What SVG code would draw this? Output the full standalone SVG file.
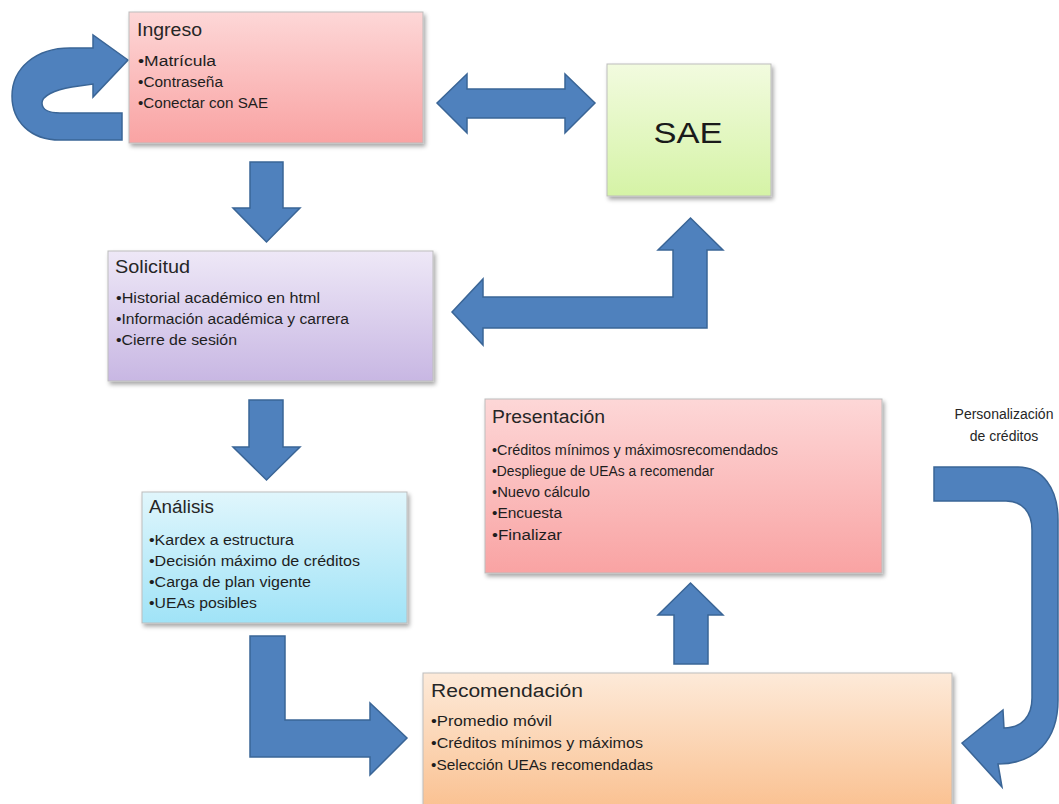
<svg xmlns="http://www.w3.org/2000/svg" width="1059" height="804" viewBox="0 0 1059 804">
<defs>
<linearGradient id="gPink" x1="0" y1="0" x2="0" y2="1"><stop offset="0" stop-color="#FDD7D7"/><stop offset="1" stop-color="#F9A3A3"/></linearGradient>
<linearGradient id="gGreen" x1="0" y1="0" x2="0" y2="1"><stop offset="0" stop-color="#F2FBDF"/><stop offset="1" stop-color="#D5F3A6"/></linearGradient>
<linearGradient id="gPurple" x1="0" y1="0" x2="0" y2="1"><stop offset="0" stop-color="#EEE8F7"/><stop offset="1" stop-color="#C8B7E3"/></linearGradient>
<linearGradient id="gCyan" x1="0" y1="0" x2="0" y2="1"><stop offset="0" stop-color="#E0F6FC"/><stop offset="1" stop-color="#A0E3F7"/></linearGradient>
<linearGradient id="gOrange" x1="0" y1="0" x2="0" y2="1"><stop offset="0" stop-color="#FDEAD9"/><stop offset="1" stop-color="#FABE8C"/></linearGradient>
<filter id="sh" x="-5%" y="-5%" width="112%" height="115%"><feDropShadow dx="2" dy="3" stdDeviation="2" flood-color="#000" flood-opacity="0.35"/></filter>
</defs>
<style>
.box{stroke:#BDBDBD;stroke-width:1;filter:url(#sh)}
.arr{fill:#4F81BD;stroke:#3A6596;stroke-width:1.5;stroke-linejoin:miter}
.t{font-family:"Liberation Sans",Arial,sans-serif;font-size:18px;fill:#262626}
.i{font-family:"Liberation Sans",Arial,sans-serif;font-size:14px;fill:#1E1E1E}
.lbl{font-family:"Liberation Sans",Arial,sans-serif;font-size:14px;fill:#262626;text-anchor:middle}
.big{font-family:"Liberation Sans",Arial,sans-serif;font-size:30px;fill:#1A1A1A;text-anchor:middle}
</style>
<rect width="1059" height="804" fill="#FFFFFF"/>

<g id="connectors">
<path class="arr" d="M122,113 L122,140 L60,140 C30,140 12,121 12,96 C12,68 36,48 70,48 L93,48 L93,35 L128,60 L93,97 L93,84 L72,87 C54,90 42,96 42,103 C42,110 50,113 60,113 Z"/>
<path class="arr" d="M437,103 L467,74 L467,89 L565,89 L565,74 L595,103 L565,133 L565,118 L467,118 L467,133 Z"/>
<path class="arr" d="M250,162 L283,162 L283,208 L300,208 L266.5,242 L233,208 L250,208 Z"/>
<path class="arr" d="M452,312 L483,279 L483,297 L673,297 L673,250 L658,250 L690.5,218 L723,250 L707,250 L707,328 L483,328 L483,345 Z"/>
<path class="arr" d="M249,400 L283,400 L283,447 L300,447 L266.5,480 L233,447 L249,447 Z"/>
<path class="arr" d="M250,636 L285,636 L285,720 L370,720 L370,703 L407,738 L370,775 L370,757 L250,757 Z"/>
<path class="arr" d="M674,664 L674,615 L658,615 L690.5,583 L723,615 L708,615 L708,664 Z"/>
<path class="arr" d="M934,467 L1018,467 C1042,467 1058,488 1058,520 L1058,700 C1058,740 1035,764 998,764 L1002,787 L962,743 L1003,710 L1004,728 C1022,728 1032,716 1032,698 L1032,530 C1032,512 1022,501 1006,501 L934,501 Z"/>
</g>

<g id="ingreso">
<rect class="box" x="129" y="12" width="294" height="131" fill="url(#gPink)"/>
<text class="t" x="137" y="36" textLength="65" lengthAdjust="spacingAndGlyphs">Ingreso</text>
<text class="i" x="138" y="66" textLength="78" lengthAdjust="spacingAndGlyphs">•Matrícula</text>
<text class="i" x="138" y="87" textLength="85" lengthAdjust="spacingAndGlyphs">•Contraseña</text>
<text class="i" x="138" y="108" textLength="130" lengthAdjust="spacingAndGlyphs">•Conectar con SAE</text>
</g>

<g id="sae">
<rect class="box" x="607" y="64" width="164" height="132" fill="url(#gGreen)"/>
<text class="big" x="688" y="143" textLength="69" lengthAdjust="spacingAndGlyphs">SAE</text>
</g>

<g id="solicitud">
<rect class="box" x="108" y="251" width="325" height="130" fill="url(#gPurple)"/>
<text class="t" x="115" y="273" textLength="75" lengthAdjust="spacingAndGlyphs">Solicitud</text>
<text class="i" x="116" y="303" textLength="204" lengthAdjust="spacingAndGlyphs">•Historial académico en html</text>
<text class="i" x="116" y="324" textLength="233" lengthAdjust="spacingAndGlyphs">•Información académica y carrera</text>
<text class="i" x="116" y="345" textLength="121" lengthAdjust="spacingAndGlyphs">•Cierre de sesión</text>
</g>

<g id="analisis">
<rect class="box" x="142" y="492" width="265" height="131" fill="url(#gCyan)"/>
<text class="t" x="149" y="513" textLength="65" lengthAdjust="spacingAndGlyphs">Análisis</text>
<text class="i" x="149" y="545" textLength="145" lengthAdjust="spacingAndGlyphs">•Kardex a estructura</text>
<text class="i" x="149" y="566" textLength="211" lengthAdjust="spacingAndGlyphs">•Decisión máximo de créditos</text>
<text class="i" x="149" y="587" textLength="162" lengthAdjust="spacingAndGlyphs">•Carga de plan vigente</text>
<text class="i" x="149" y="608" textLength="108" lengthAdjust="spacingAndGlyphs">•UEAs posibles</text>
</g>

<g id="presentacion">
<rect class="box" x="485" y="399" width="397" height="174" fill="url(#gPink)"/>
<text class="t" x="492" y="423" textLength="113" lengthAdjust="spacingAndGlyphs">Presentación</text>
<text class="i" x="492" y="455" textLength="286" lengthAdjust="spacingAndGlyphs">•Créditos mínimos y máximosrecomendados</text>
<text class="i" x="492" y="476" textLength="222" lengthAdjust="spacingAndGlyphs">•Despliegue de UEAs a recomendar</text>
<text class="i" x="492" y="497" textLength="98" lengthAdjust="spacingAndGlyphs">•Nuevo cálculo</text>
<text class="i" x="492" y="518" textLength="70" lengthAdjust="spacingAndGlyphs">•Encuesta</text>
<text class="i" x="492" y="540" textLength="70" lengthAdjust="spacingAndGlyphs">•Finalizar</text>
</g>

<g id="recomendacion">
<rect class="box" x="423" y="673" width="529" height="145" fill="url(#gOrange)"/>
<text class="t" x="431" y="697" textLength="152" lengthAdjust="spacingAndGlyphs">Recomendación</text>
<text class="i" x="431" y="726" textLength="121" lengthAdjust="spacingAndGlyphs">•Promedio móvil</text>
<text class="i" x="431" y="748" textLength="212" lengthAdjust="spacingAndGlyphs">•Créditos mínimos y máximos</text>
<text class="i" x="431" y="770" textLength="222" lengthAdjust="spacingAndGlyphs">•Selección UEAs recomendadas</text>
</g>

<g id="label-personalizacion">
<text class="lbl" x="1004" y="419">Personalización</text>
<text class="lbl" x="1004" y="441">de créditos</text>
</g>
</svg>
